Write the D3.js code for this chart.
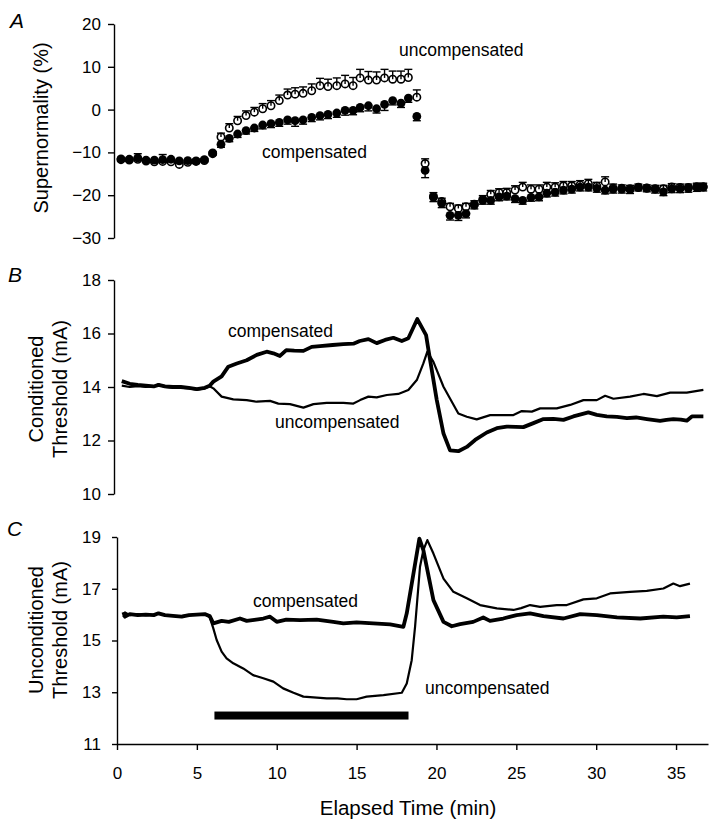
<!DOCTYPE html>
<html><head><meta charset="utf-8">
<script src="https://cdn.jsdelivr.net/npm/d3@7"></script>
<style>
body{margin:0;background:#fff}
svg{display:block;background:#fff}
text{font-family:"Liberation Sans",Arial,Helvetica,sans-serif;fill:#000}
</style>
</head><body>
<svg id="chart" width="713" height="829"></svg>
<script>
// ---------- DATA ----------
// Panel A: supernormality (%) sampled over elapsed time (min)
const timeA = [0.25,0.77,1.30,1.82,2.34,2.86,3.38,3.90,4.43,4.95,5.47,
  5.99,6.51,7.03,7.55,8.08,8.60,9.12,9.64,10.16,10.68,
  11.15,11.65,12.19,12.71,13.21,13.76,14.28,14.78,15.22,15.74,
  16.25,16.75,17.26,17.78,18.24,18.77,19.29,19.81,20.33,20.85,
  21.37,21.85,22.37,22.90,23.40,23.92,24.40,24.92,25.40,25.92,
  26.42,26.91,27.43,27.95,28.47,28.99,29.51,30.04,30.56,31.06,
  31.60,32.12,32.64,33.17,33.69,34.21,34.73,35.25,35.77,36.30,36.70];
const superComp = [-11.5,-11.6,-11.3,-11.8,-11.8,-11.7,-11.6,-12.0,-11.9,-12.0,-11.7,
  -10.1,-8.1,-6.7,-5.7,-4.9,-4.3,-3.6,-3.3,-3.0,-2.4,
  -2.6,-2.4,-1.8,-1.4,-1.1,-0.8,-0.2,-0.2,0.5,0.9,
  0.2,1.2,2.1,1.5,2.7,-1.6,-14.2,-20.5,-21.9,-24.7,
  -24.7,-24.3,-22.3,-21.2,-21.2,-20.4,-20.2,-20.8,-21.2,-20.5,
  -20.4,-19.5,-19.3,-18.8,-18.6,-18.1,-18.1,-18.4,-18.8,-18.6,
  -18.6,-18.7,-18.1,-18.3,-18.6,-19.2,-18.5,-18.5,-18.4,-18.2,-18.1];
const superUncomp = [-11.7,-11.8,-11.6,-12.0,-12.2,-12.1,-12.2,-12.8,-12.3,-12.1,-11.9,
  -10.3,-6.4,-4.3,-2.6,-1.4,-0.6,0.2,0.9,2.1,3.4,
  3.6,3.8,4.4,5.6,5.4,5.6,6.0,5.6,7.4,6.9,
  6.9,7.4,7.1,7.1,7.5,2.9,-12.6,-20.3,-21.5,-22.7,
  -23.1,-22.7,-22.1,-21.0,-19.8,-19.4,-19.4,-18.8,-18.1,-18.6,
  -18.6,-18.1,-18.1,-17.8,-17.8,-17.6,-17.3,-17.9,-16.9,-18.3,
  -18.4,-18.5,-18.2,-18.4,-18.5,-18.5,-18.1,-18.2,-18.2,-18.0,-18.0];
// SEM (upper bars for uncompensated, lower bars for compensated)
const errUncomp = [0.5,0.5,1.3,0.5,0.5,1.6,0.5,0.5,0.5,0.5,0.5,
  0.5,0.9,1.0,1.0,1.1,1.1,1.2,1.2,1.3,1.4,
  1.5,1.5,1.6,1.7,1.7,1.8,2.0,1.9,2.0,2.0,
  1.9,2.0,1.9,1.9,1.9,1.7,1.1,0.9,0.8,0.8,
  0.8,0.8,0.8,0.9,0.9,0.9,1.0,1.0,1.1,1.0,
  1.0,1.1,1.0,1.0,1.0,1.0,1.0,0.9,1.2,0.9,
  0.8,0.8,0.8,0.8,0.8,0.8,0.8,0.8,0.8,0.8,0.8];
const errComp = [0.5,0.5,0.6,0.5,0.5,0.6,0.5,0.5,0.5,0.6,0.5,
  0.5,0.7,0.8,0.8,0.8,0.8,0.9,0.9,0.9,1.0,
  1.3,1.0,1.0,1.0,1.0,1.0,1.1,1.0,1.0,1.2,
  1.0,1.4,1.0,1.0,1.0,1.0,1.7,1.0,1.0,1.1,
  1.2,1.0,0.9,0.9,0.9,0.9,0.9,0.9,0.9,0.9,
  0.9,0.9,0.9,0.9,0.9,0.9,0.9,0.9,0.9,0.9,
  0.9,0.9,0.9,0.9,0.9,0.9,0.9,0.9,0.9,0.9,0.9];

// Panel B: conditioned threshold (mA) [time, value]
const condComp = [[0.3,14.22],[0.8,14.12],[1.3,14.08],[1.8,14.05],[2.3,14.02],[2.6,14.08],[3.0,14.02],[3.5,14.0],[4.0,14.0],[4.5,13.97],[5.0,13.92],[5.5,13.97],[5.8,14.05],
  [6.03,14.2],[6.55,14.4],[6.97,14.76],[7.5,14.88],[8.12,15.0],[8.75,15.2],[9.37,15.32],[9.79,15.26],[10.2,15.16],[10.6,15.38],[11.1,15.36],[11.67,15.35],[12.19,15.5],[12.71,15.53],[13.5,15.57],[14.17,15.6],[14.8,15.62],[15.2,15.72],[15.74,15.79],[16.26,15.64],[16.78,15.76],[17.3,15.84],[17.83,15.72],[18.24,15.82],[18.8,16.54],[19.35,15.94],[19.5,15.38],[20.02,13.51],[20.44,12.26],[20.85,11.63],[21.37,11.6],[21.9,11.76],[22.42,12.02],[23.15,12.3],[23.78,12.46],[24.4,12.52],[25.44,12.5],[26.07,12.65],[26.7,12.8],[27.32,12.81],[27.95,12.77],[28.57,12.9],[29.51,13.05],[30.04,12.96],[30.66,12.9],[31.3,12.88],[31.92,12.84],[32.5,12.86],[33.17,12.8],[34.0,12.73],[34.4,12.77],[34.83,12.8],[35.3,12.78],[35.67,12.74],[35.99,12.9],[36.71,12.9]];
const condUncomp = [[0.3,14.05],[0.8,14.0],[1.3,14.03],[1.8,14.0],[2.3,14.02],[2.6,14.1],[3.0,14.0],[3.5,13.98],[4.0,13.98],[4.5,13.95],[5.0,13.9],[5.5,13.95],[5.8,14.03],
  [6.03,13.95],[6.55,13.64],[7.28,13.54],[8.12,13.51],[8.75,13.45],[9.58,13.48],[10.1,13.38],[10.83,13.36],[11.67,13.23],[12.3,13.36],[13.13,13.41],[14.17,13.41],[14.8,13.38],[15.22,13.51],[15.74,13.64],[16.26,13.61],[16.89,13.7],[17.61,13.74],[18.24,13.89],[18.77,14.26],[19.18,14.88],[19.43,15.32],[19.81,14.94],[20.44,14.01],[21.37,13.01],[21.9,12.89],[22.52,12.79],[23.36,12.95],[24.82,12.95],[25.34,13.1],[25.97,13.08],[26.49,13.2],[27.53,13.2],[28.37,13.33],[29.2,13.51],[30.04,13.51],[30.56,13.67],[31.08,13.56],[32.12,13.64],[32.96,13.74],[33.8,13.66],[34.63,13.79],[35.67,13.79],[36.71,13.89]];

// Panel C: unconditioned threshold (mA) [time, value]
const uncondComp = [[0.4,16.1],[0.5,15.92],[0.8,16.02],[1.3,15.98],[1.8,16.0],[2.3,15.98],[2.6,16.05],[3.0,15.98],[3.5,15.95],[4.05,15.92],[4.5,15.98],[5.0,16.0],[5.5,16.02],[5.8,15.95],
  [6.03,15.66],[6.55,15.76],[7.0,15.72],[7.7,15.85],[8.12,15.76],[8.6,15.8],[9.16,15.85],[9.58,15.92],[10.0,15.72],[10.6,15.81],[11.46,15.79],[12.5,15.81],[13.54,15.72],[14.17,15.66],[15.0,15.7],[16.05,15.66],[17.1,15.62],[17.93,15.53],[18.14,16.05],[18.93,18.94],[19.18,18.49],[19.81,16.56],[20.44,15.72],[20.96,15.55],[21.48,15.63],[22.3,15.72],[22.93,15.89],[23.35,15.76],[24.18,15.85],[25.02,15.98],[25.86,16.05],[26.7,15.94],[27.95,15.85],[29.0,16.02],[30.04,15.98],[31.3,15.89],[32.76,15.85],[34.2,15.92],[35.04,15.89],[35.87,15.94]];
const uncondUncomp = [[0.4,15.9],[0.5,16.08],[0.8,15.98],[1.3,16.02],[1.8,15.98],[2.3,16.0],[2.6,16.05],[3.0,15.98],[3.5,15.95],[4.05,15.94],[4.5,15.98],[5.0,16.0],[5.5,16.02],[5.8,15.9],
  [6.03,15.47],[6.24,15.02],[6.55,14.57],[6.86,14.31],[7.28,14.12],[7.9,13.92],[8.52,13.66],[9.16,13.54],[9.79,13.41],[10.4,13.15],[11.05,12.98],[11.67,12.83],[12.3,12.8],[13.13,12.76],[13.8,12.76],[14.38,12.73],[15.0,12.73],[15.63,12.83],[16.68,12.89],[17.83,12.98],[18.14,13.34],[18.45,14.24],[18.66,15.53],[18.97,17.85],[19.18,18.49],[19.43,18.88],[19.81,18.36],[20.44,17.39],[21.06,16.88],[21.9,16.63],[22.73,16.37],[23.78,16.24],[24.82,16.18],[25.3,16.25],[25.86,16.37],[26.49,16.3],[27.53,16.37],[28.16,16.37],[29.2,16.59],[30.04,16.63],[30.87,16.82],[32.12,16.88],[33.17,16.92],[34.21,17.01],[34.83,17.2],[35.25,17.1],[35.87,17.2]];

// Period of intervention (bar in panel C)
const barStart = 6.1, barEnd = 18.25, barLevel = 12.1;

// Tick labels
const ticksA = [-30,-20,-10,0,10,20];
const ticksB = [10,12,14,16,18];
const ticksC = [11,13,15,17,19];
const ticksX = [0,5,10,15,20,25,30,35];

// ---------- DRAWING ----------
const svg = d3.select("#chart");
const x = d3.scaleLinear().domain([0,37]).range([117,708]);
const yA = d3.scaleLinear().domain([-30,20]).range([238,24]);
const yB = d3.scaleLinear().domain([10,18]).range([494,280]);
const yC = d3.scaleLinear().domain([11,19]).range([744,537]);

function styleAxis(g){
  g.selectAll("path.domain").attr("stroke","#000").attr("stroke-width",1.4);
  g.selectAll(".tick line").attr("stroke","#000").attr("stroke-width",1.4);
  g.selectAll(".tick text").attr("font-size","17px").attr("fill","#000")
    .attr("font-family",'"Liberation Sans",Arial,sans-serif');
}
svg.append("g").attr("transform","translate(114,0)")
  .call(d3.axisLeft(yA).tickValues(ticksA).tickSize(6).tickSizeOuter(0).tickPadding(7).tickFormat(d3.format("d")))
  .call(styleAxis);
svg.append("g").attr("transform","translate(114,0)")
  .call(d3.axisLeft(yB).tickValues(ticksB).tickSize(6).tickSizeOuter(0).tickPadding(7).tickFormat(d3.format("d")))
  .call(styleAxis);
svg.append("g").attr("transform","translate(117,0)")
  .call(d3.axisLeft(yC).tickValues(ticksC).tickSize(5).tickSizeOuter(0).tickPadding(11).tickFormat(d3.format("d")))
  .call(styleAxis);
svg.append("g").attr("transform","translate(0,744)")
  .call(d3.axisBottom(x).tickValues(ticksX).tickSize(6).tickSizeOuter(0).tickPadding(17).tickFormat(d3.format("d")))
  .call(styleAxis);

// Panel A points
const ptsA = timeA.map((t,i)=>({t, c:superComp[i], u:superUncomp[i], ec:errComp[i], eu:errUncomp[i]}));
const gA = svg.append("g");
const capW = 4;
function errBar(xx, y0, y1){
  gA.append("line").attr("x1",xx).attr("x2",xx).attr("y1",y0).attr("y2",y1).attr("stroke","#000").attr("stroke-width",1.4);
  gA.append("line").attr("x1",xx-capW).attr("x2",xx+capW).attr("y1",y1).attr("y2",y1).attr("stroke","#000").attr("stroke-width",1.4);
}
// open circles (uncompensated) with upward bars
gA.selectAll("circle.open").data(ptsA).join("circle").attr("class","open")
  .attr("cx",d=>x(d.t)).attr("cy",d=>yA(d.u)).attr("r",3.7).attr("fill","#fff").attr("stroke","#000").attr("stroke-width",1.6);
ptsA.forEach(d=>errBar(x(d.t), yA(d.u), yA(d.u + d.eu)));
// filled circles (compensated) with downward bars, drawn on top
ptsA.forEach(d=>errBar(x(d.t), yA(d.c), yA(d.c - d.ec)));
gA.selectAll("circle.fill").data(ptsA).join("circle").attr("class","fill")
  .attr("cx",d=>x(d.t)).attr("cy",d=>yA(d.c)).attr("r",4.4).attr("fill","#000");

// Panel B lines
const lineB = d3.line().x(d=>x(d[0])).y(d=>yB(d[1]));
svg.append("path").attr("d",lineB(condUncomp)).attr("fill","none").attr("stroke","#000").attr("stroke-width",2.2).attr("stroke-linejoin","round");
svg.append("path").attr("d",lineB(condComp)).attr("fill","none").attr("stroke","#000").attr("stroke-width",3.8).attr("stroke-linejoin","round");

// Panel C lines
const lineC = d3.line().x(d=>x(d[0])).y(d=>yC(d[1]));
svg.append("path").attr("d",lineC(uncondUncomp)).attr("fill","none").attr("stroke","#000").attr("stroke-width",2.2).attr("stroke-linejoin","round");
svg.append("path").attr("d",lineC(uncondComp)).attr("fill","none").attr("stroke","#000").attr("stroke-width",3.8).attr("stroke-linejoin","round");

// Bar
svg.append("rect").attr("x",x(barStart)).attr("width",x(barEnd)-x(barStart))
  .attr("y",yC(barLevel)-4).attr("height",8).attr("fill","#000");

// Annotations
const ann = [
  {s:"uncompensated", x:399, y:56},
  {s:"compensated", x:262, y:158},
  {s:"compensated", x:228, y:337},
  {s:"uncompensated", x:275, y:428},
  {s:"compensated", x:253, y:607},
  {s:"uncompensated", x:425, y:694}
];
svg.selectAll("text.ann").data(ann).join("text").attr("class","ann")
  .attr("x",d=>d.x).attr("y",d=>d.y).attr("font-size","17.5px").text(d=>d.s);

// Panel letters
[["A",10,28],["B",8,282],["C",7,536]].forEach(([s,px,py])=>{
  svg.append("text").attr("x",px).attr("y",py).attr("font-size","21px").attr("font-style","italic").text(s);
});

// Axis titles
function vtext(lines, cy){
  lines.forEach(([s,bx])=>{
    svg.append("text").attr("transform",`translate(${bx},${cy}) rotate(-90)`)
      .attr("text-anchor","middle").attr("font-size","20px").text(s);
  });
}
vtext([["Supernormality (%)",48]],128);
vtext([["Conditioned",43],["Threshold (mA)",67]],389);
vtext([["Unconditioned",43],["Threshold (mA)",67]],630);
svg.append("text").attr("x",408).attr("y",815).attr("text-anchor","middle").attr("font-size","20.5px").text("Elapsed Time (min)");
</script>
</body></html>
